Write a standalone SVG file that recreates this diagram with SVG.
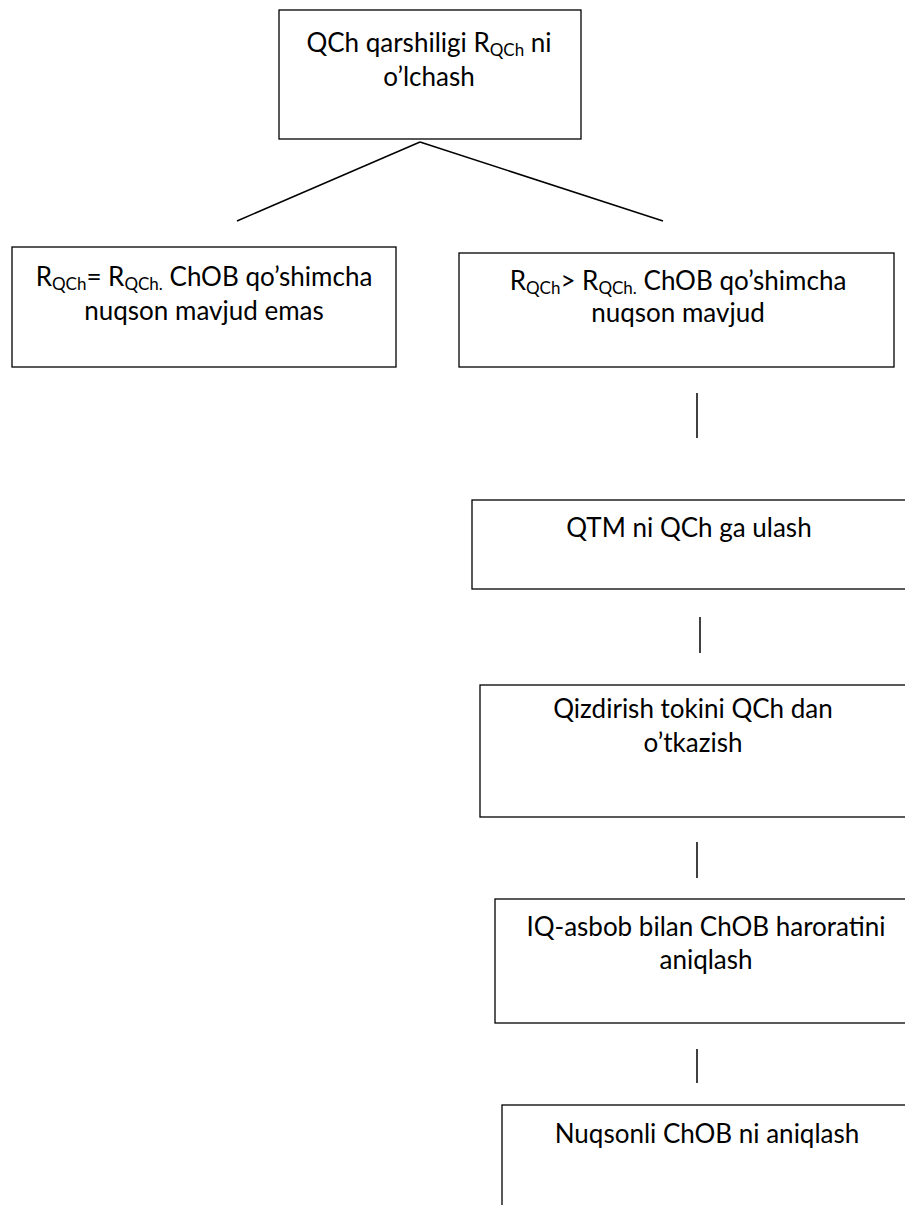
<svg xmlns="http://www.w3.org/2000/svg" width="905" height="1205" viewBox="0 0 905 1205">
<style>
.box{fill:#fff;stroke:#000;stroke-width:1.3}
.t{font-family:Lato,"Open Sans","Liberation Sans",sans-serif;font-size:26px;fill:#000;text-anchor:middle}
.s{font-size:17px}
.c{stroke:#000;stroke-width:1.5;fill:none}
</style>
<rect width="905" height="1205" fill="#fff"/>
<g id="connectors">
<line class="c" x1="420" y1="142" x2="237" y2="221"/>
<line class="c" x1="420" y1="142" x2="663" y2="221"/>
<line class="c" x1="697" y1="393" x2="697" y2="438"/>
<line class="c" x1="700" y1="617" x2="700" y2="653"/>
<line class="c" x1="697" y1="842" x2="697" y2="878"/>
<line class="c" x1="697" y1="1049" x2="697" y2="1083"/>
</g>
<g id="n1">
<rect class="box" x="279" y="10" width="302" height="129"/>
<text class="t" x="429" y="52">QCh qarshiligi R<tspan class="s" dy="4">QCh</tspan><tspan dy="-4"> ni</tspan></text>
<text class="t" x="429" y="86">o’lchash</text>
</g>
<g id="n2">
<rect class="box" x="12" y="247" width="384" height="120"/>
<text class="t" x="204" y="286">R<tspan class="s" dy="4">QCh</tspan><tspan dy="-4">= R</tspan><tspan class="s" dy="4">QCh.</tspan><tspan dy="-4"> ChOB qo’shimcha</tspan></text>
<text class="t" x="204" y="320">nuqson mavjud emas</text>
</g>
<g id="n3">
<rect class="box" x="459" y="253" width="435" height="114"/>
<text class="t" x="678" y="290">R<tspan class="s" dy="4">QCh</tspan><tspan dy="-4">&gt; R</tspan><tspan class="s" dy="4">QCh.</tspan><tspan dy="-4"> ChOB qo’shimcha</tspan></text>
<text class="t" x="678" y="322">nuqson mavjud</text>
</g>
<g id="n4">
<rect class="box" x="472" y="500" width="438" height="89"/>
<text class="t" x="689" y="537">QTM ni QCh ga ulash</text>
</g>
<g id="n5">
<rect class="box" x="480" y="685" width="430" height="132"/>
<text class="t" x="693" y="718">Qizdirish tokini QCh dan</text>
<text class="t" x="693" y="752">o’tkazish</text>
</g>
<g id="n6">
<rect class="box" x="495" y="899" width="422" height="124"/>
<text class="t" x="706" y="936">IQ-asbob bilan ChOB haroratini</text>
<text class="t" x="706" y="969">aniqlash</text>
</g>
<g id="n7">
<rect class="box" x="502" y="1105" width="410" height="110"/>
<text class="t" x="707" y="1143">Nuqsonli ChOB ni aniqlash</text>
</g>
</svg>
